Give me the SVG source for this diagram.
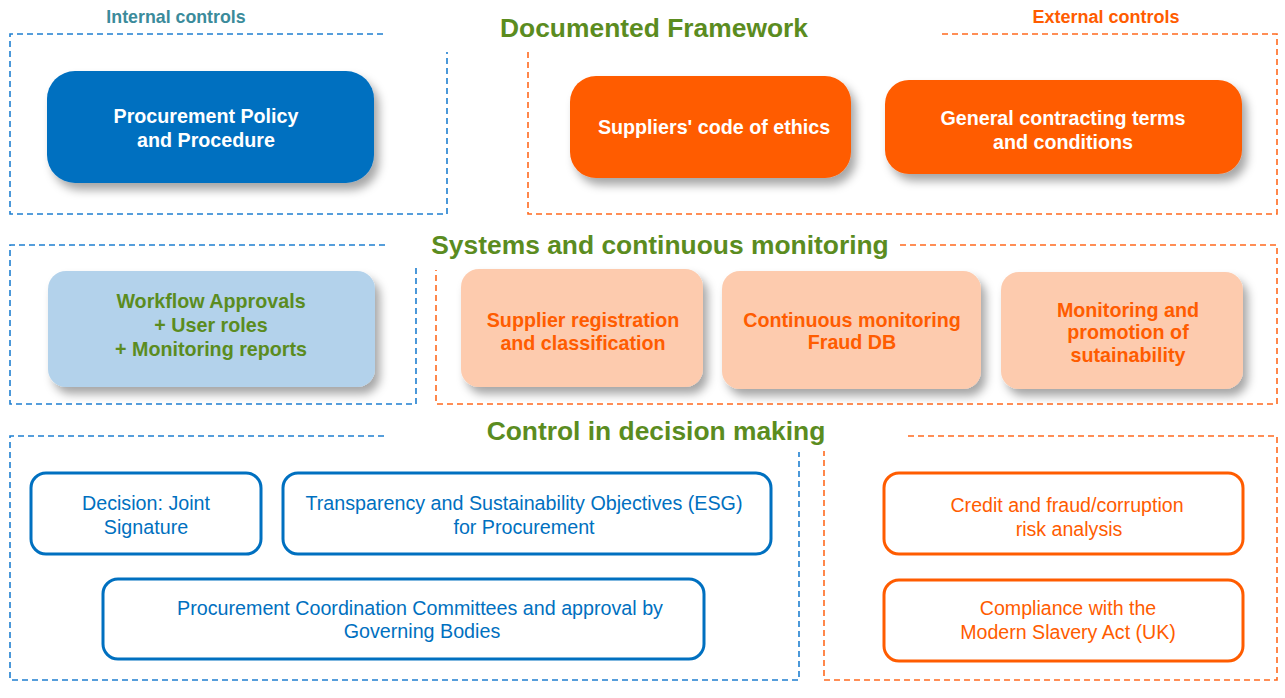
<svg xmlns="http://www.w3.org/2000/svg" width="1285" height="698" viewBox="0 0 1285 698">
<defs>
<filter id="sh" x="-10%" y="-10%" width="130%" height="140%">
<feDropShadow dx="5" dy="7" stdDeviation="5" flood-color="#000" flood-opacity="0.35"/>
</filter>
<style>
.fb{fill:none;stroke:#1F7FD0;stroke-width:1.6;stroke-dasharray:6 4}
.fo{fill:none;stroke:#FF6A1F;stroke-width:1.6;stroke-dasharray:6 4}
.t{font-family:"Liberation Sans",Arial,sans-serif;text-anchor:middle}
.title{font-size:26.4px;font-weight:bold;fill:#5B8C1F}
.wb{font-size:19.7px;font-weight:bold;fill:#fff}
.gb{font-size:19.7px;font-weight:bold;fill:#5B8C1F}
.ob{font-size:19.7px;font-weight:bold;fill:#FF5C00}
.bn{font-size:19.7px;fill:#0070C0}
.on{font-size:19.6px;fill:#FF5C00}
.ob2{fill:#fff;stroke:#0070C0;stroke-width:3}
.oo2{fill:#fff;stroke:#FF5C00;stroke-width:3}
</style>
</defs>
<rect width="1285" height="698" fill="#fff"/>

<g id="frames">
<path class="fb" d="M383,34 H10 V214 H447 V52"/>
<path class="fo" d="M942,34 H1277 V214 H528 V52"/>
<path class="fb" d="M385,245 H10 V404 H416 V265"/>
<path class="fo" d="M900,245 H1277 V404 H436 V270"/>
</g>

<g id="labels">
<text class="t" x="176" y="23" font-size="17.8" font-weight="bold" fill="#3B8B9B">Internal controls</text>
<text class="t" x="1106" y="23" font-size="18" font-weight="bold" fill="#FF5C00">External controls</text>
<text class="t title" x="654" y="37">Documented Framework</text>
</g>

<g id="n1">
<rect x="47" y="71" width="327" height="112" rx="28" fill="#0070C0" filter="url(#sh)"/>
<text class="t wb" x="206" y="123">Procurement Policy</text>
<text class="t wb" x="206" y="147">and Procedure</text>
</g>
<g id="n2">
<rect x="570" y="76" width="281" height="102" rx="26" fill="#FF5C00" filter="url(#sh)"/>
<text class="t wb" x="714" y="134">Suppliers' code of ethics</text>
</g>
<g id="n3">
<rect x="885" y="80" width="357" height="94" rx="24" fill="#FF5C00" filter="url(#sh)"/>
<text class="t wb" x="1063" y="125">General contracting terms</text>
<text class="t wb" x="1063" y="149">and conditions</text>
</g>

<g id="n4">
<rect x="48" y="271" width="327" height="116" rx="18" fill="#B3D2EB" filter="url(#sh)"/>
<text class="t gb" x="211" y="308">Workflow Approvals</text>
<text class="t gb" x="211" y="332">+ User roles</text>
<text class="t gb" x="211" y="356">+ Monitoring reports</text>
</g>
<g id="n5">
<rect x="461" y="269" width="242" height="118" rx="18" fill="#FDCBAE" filter="url(#sh)"/>
<text class="t ob" x="583" y="327">Supplier registration</text>
<text class="t ob" x="583" y="350">and classification</text>
</g>
<g id="n6">
<rect x="722" y="271" width="259" height="118" rx="18" fill="#FDCBAE" filter="url(#sh)"/>
<text class="t ob" x="852" y="327">Continuous monitoring</text>
<text class="t ob" x="852" y="349">Fraud DB</text>
</g>
<g id="n7">
<rect x="1001" y="272" width="242" height="117" rx="18" fill="#FDCBAE" filter="url(#sh)"/>
<text class="t ob" x="1128" y="317">Monitoring and</text>
<text class="t ob" x="1128" y="339">promotion of</text>
<text class="t ob" x="1128" y="362">sutainability</text>
</g>

<rect x="386" y="225" width="514" height="38" fill="#fff"/>
<text class="t title" x="660" y="254">Systems and continuous monitoring</text>

<rect x="386" y="408" width="520" height="40" fill="#fff"/>
<g id="frames2">
<path class="fb" d="M384,436 H10 V680 H799 V452"/>
<path class="fo" d="M908,436 H1277 V680 H824 V451"/>
</g>
<text class="t title" x="656" y="440">Control in decision making</text>

<g id="n8">
<rect x="31" y="473" width="230" height="81" rx="15" class="ob2"/>
<text class="t bn" x="146" y="510">Decision: Joint</text>
<text class="t bn" x="146" y="534">Signature</text>
</g>
<g id="n9">
<rect x="283" y="473" width="488" height="81" rx="15" class="ob2"/>
<text class="t bn" x="524" y="510">Transparency and Sustainability Objectives (ESG)</text>
<text class="t bn" x="524" y="534">for Procurement</text>
</g>
<g id="n10">
<rect x="103" y="579" width="601" height="80" rx="15" class="ob2"/>
<text class="t bn" x="420" y="615">Procurement Coordination Committees and approval by</text>
<text class="t bn" x="422" y="638">Governing Bodies</text>
</g>
<g id="n11">
<rect x="884" y="473" width="359" height="81" rx="15" class="oo2"/>
<text class="t on" x="1067" y="512">Credit and fraud/corruption</text>
<text class="t on" x="1069" y="536">risk analysis</text>
</g>
<g id="n12">
<rect x="884" y="580" width="359" height="81" rx="15" class="oo2"/>
<text class="t on" x="1068" y="615">Compliance with the</text>
<text class="t on" x="1068" y="639">Modern Slavery Act (UK)</text>
</g>
<g id="connectors"></g>
</svg>
